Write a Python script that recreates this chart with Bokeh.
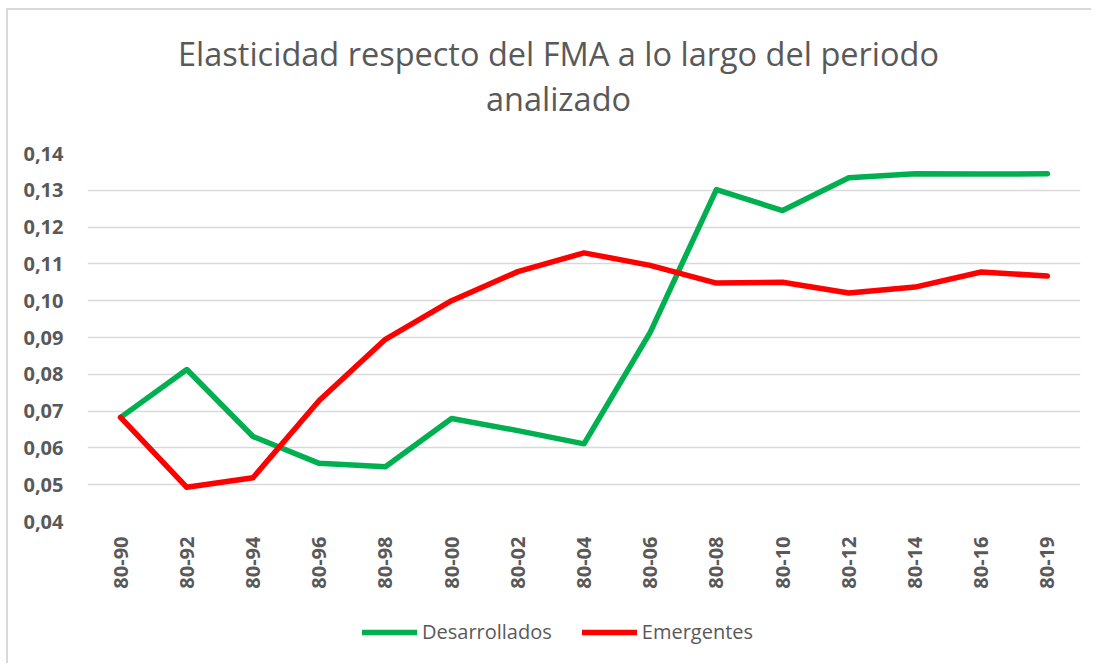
from bokeh.plotting import figure
from bokeh.models import FixedTicker, Legend, LegendItem, Label, Range1d
from bokeh.layouts import column
from bokeh.embed import file_html
from bokeh.resources import INLINE

periods = ["80-90", "80-92", "80-94", "80-96", "80-98", "80-00", "80-02", "80-04",
           "80-06", "80-08", "80-10", "80-12", "80-14", "80-16", "80-19"]
desarrollados = [0.0683, 0.0813, 0.0631, 0.0558, 0.0549, 0.0680, 0.0647, 0.0611,
                 0.0914, 0.1302, 0.1245, 0.1334, 0.1345, 0.1344, 0.1345]
emergentes = [0.0683, 0.0493, 0.0519, 0.0729, 0.0895, 0.1000, 0.1079, 0.1130,
              0.1096, 0.1048, 0.1050, 0.1021, 0.1037, 0.1078, 0.1067]
y_ticks = [0.04, 0.05, 0.06, 0.07, 0.08, 0.09, 0.10, 0.11, 0.12, 0.13, 0.14]
y_tick_labels = ["0,04", "0,05", "0,06", "0,07", "0,08", "0,09", "0,10", "0,11", "0,12", "0,13", "0,14"]
series_names = ["Desarrollados", "Emergentes"]
series_colors = ["#00B050", "#FF0000"]
title_lines = ["Elasticidad respecto del FMA a lo largo del periodo", "analizado"]

FONT = "Open Sans"
GRAY = "#595959"
LW = 5.5
W = 1083

# ---- title strip ----
pt = figure(width=W, height=120, x_range=Range1d(0, 1), y_range=Range1d(0, 1),
            output_backend="svg", toolbar_location=None,
            x_axis_type=None, y_axis_type=None,
            min_border_left=0, min_border_right=0, min_border_top=0, min_border_bottom=0)
pt.outline_line_color = None
for txt, ypos in zip(title_lines, [77, 32]):
    pt.add_layout(Label(x=471, y=ypos, x_units="screen", y_units="screen", text=txt,
                        text_align="center", text_baseline="alphabetic",
                        text_font=FONT, text_font_size="32.5px", text_color=GRAY))

# ---- main chart ----
p = figure(x_range=periods, y_range=Range1d(0.04, 0.14), width=W, height=470,
           output_backend="svg", toolbar_location=None,
           min_border_left=79, min_border_right=11, min_border_top=23, min_border_bottom=79)
p.outline_line_color = None

r1 = p.line(periods, desarrollados, line_color=series_colors[0], line_width=LW,
            line_join="round", line_cap="round")
r2 = p.line(periods, emergentes, line_color=series_colors[1], line_width=LW,
            line_join="round", line_cap="round")

p.yaxis.ticker = FixedTicker(ticks=y_ticks)
p.yaxis.major_label_overrides = {tk: lb for tk, lb in zip(y_ticks, y_tick_labels)}
for ax in (p.xaxis, p.yaxis):
    ax.axis_line_color = None
    ax.major_tick_line_color = None
    ax.minor_tick_line_color = None
    ax.major_tick_out = 0
    ax.major_tick_in = 0
    ax.major_label_text_font = FONT
    ax.major_label_text_font_style = "bold"
    ax.major_label_text_font_size = "20px"
    ax.major_label_text_color = GRAY
p.xaxis.major_label_orientation = 1.5707963
p.xaxis.major_label_standoff = 15
p.yaxis.major_label_standoff = 24

p.xgrid.grid_line_color = None
p.ygrid.grid_line_color = "#d9d9d9"
p.ygrid.grid_line_width = 1.5

# ---- legend strip ----
pl = figure(width=W, height=63, x_range=periods, y_range=Range1d(10, 11),
            output_backend="svg", toolbar_location=None,
            x_axis_type=None, y_axis_type=None,
            min_border_left=0, min_border_right=0, min_border_top=0, min_border_bottom=0)
pl.outline_line_color = None
pl.xgrid.visible = False
pl.ygrid.visible = False
lr1 = pl.line(periods, desarrollados, line_color=series_colors[0], line_width=LW, line_cap="round")
lr2 = pl.line(periods, emergentes, line_color=series_colors[1], line_width=LW, line_cap="round")
legend = Legend(items=[LegendItem(label=series_names[0], renderers=[lr1]),
                       LegendItem(label=series_names[1], renderers=[lr2])],
                orientation="horizontal", location=(275, 18),
                label_text_font=FONT, label_text_font_size="20px", label_text_color=GRAY,
                glyph_width=55, glyph_height=20, label_standoff=5, spacing=30,
                border_line_color=None, background_fill_alpha=0, margin=0, padding=6)
pl.add_layout(legend, "center")

layout = column(pt, p, pl, spacing=0, margin=(8, 0, 0, 6),
                styles={"border-top": "2px solid #d9d9d9", "border-left": "2px solid #d9d9d9"})

open("out.html", "w").write(file_html(layout, INLINE))
